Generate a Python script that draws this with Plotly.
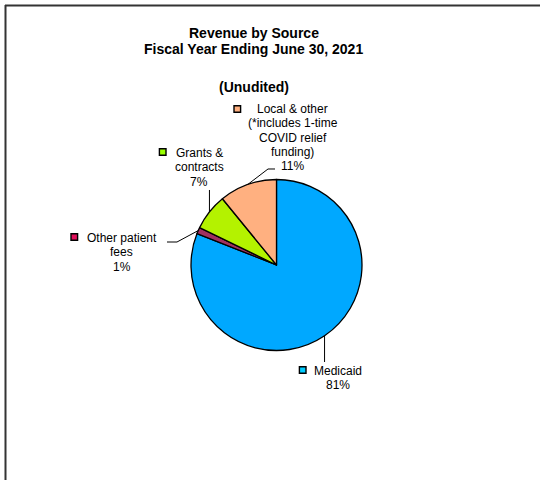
import math
import plotly.graph_objects as go

# ---- data ----
categories = ["Medicaid", "Other patient fees", "Grants & contracts", "Local & other"]
values = [81.0, 1.2, 6.9, 10.9]
label_lines = [
    ["Medicaid", "81%"],
    ["Other patient", "fees", "1%"],
    ["Grants &", "contracts", "7%"],
    ["Local & other", "(*includes 1-time", "COVID relief", "funding)", "11%"],
]
title_lines = ["Revenue by Source", "Fiscal Year Ending June 30, 2021", "(Unudited)"]
slice_colors = ["#00A8FF", "#A0305F", "#B4F200", "#FFB080"]
key_colors = ["#00CCFF", "#E0105A", "#99FF00", "#FFB080"]

W, H = 540, 480
cx, cy, R = 276.5, 265.0, 85.5


def px(x):
    return x / W


def py(y):
    return 1 - y / H


fig = go.Figure()
fig.add_trace(go.Pie(
    labels=categories,
    values=values,
    sort=False,
    direction="clockwise",
    rotation=0,
    marker=dict(colors=slice_colors, line=dict(color="black", width=1.3)),
    textinfo="none",
    hoverinfo="label+percent",
    showlegend=False,
    domain=dict(x=[px(cx - R), px(cx + R)], y=[py(cy + R), py(cy - R)]),
))

# slice mid-angle edge points (clockwise from 12 o'clock)
total = sum(values)
edges = []
cum = 0.0
for v in values:
    mid = (cum + v / 2) / total * 2 * math.pi
    edges.append((cx + R * math.sin(mid), cy - R * math.cos(mid)))
    cum += v

# label layout (pixel positions): center x, first line y, key position
label_pos = [(337.5, 371), (121.5, 238), (199, 153), (292.5, 109)]
key_pos = [(302.7, 370), (74.3, 237), (162.7, 152), (237.3, 109)]
line_gap = 14.3

shapes = []
annotations = []
for i, lines in enumerate(label_lines):
    lx, ly = label_pos[i]
    for j, t in enumerate(lines):
        annotations.append(dict(
            x=px(lx), y=py(ly + j * line_gap), xref="paper", yref="paper", text=t,
            showarrow=False, xanchor="center", yanchor="middle", align="center",
            font=dict(family="Liberation Sans, Arial", size=12, color="black"),
        ))
    kx, ky = key_pos[i]
    shapes.append(dict(type="rect", xref="paper", yref="paper",
                       x0=px(kx - 3.3), x1=px(kx + 3.3), y0=py(ky + 3.3), y1=py(ky - 3.3),
                       fillcolor=key_colors[i], line=dict(color="black", width=1.4)))

ex, ey = edges[0]
leader_pts = [
    [(ex, ey), (ex, 362)],
    [edges[1], (177, 242), (167, 242)],
    [edges[2], (edges[2][0], 190)],
    [edges[3], (268, 169), (275, 169)],
]
for pts in leader_pts:
    path = "M " + " L ".join(f"{px(x):.5f},{py(y):.5f}" for x, y in pts)
    shapes.append(dict(type="path", xref="paper", yref="paper", path=path,
                       line=dict(color="black", width=1)))

# frame lines (top and left)
shapes.append(dict(type="line", xref="paper", yref="paper", x0=px(5), x1=1, y0=py(5.5), y1=py(5.5),
                   line=dict(color="#333333", width=2)))
shapes.append(dict(type="line", xref="paper", yref="paper", x0=px(5.5), x1=px(5.5), y0=py(5), y1=0,
                   line=dict(color="#333333", width=2)))

title_y = [32.5, 49, 87]
for t, y in zip(title_lines, title_y):
    annotations.append(dict(
        x=px(253.5), y=py(y), xref="paper", yref="paper", text=f"<b>{t}</b>",
        showarrow=False, xanchor="center", yanchor="middle",
        font=dict(family="Liberation Sans, Arial", size=14, color="black"),
    ))

fig.update_layout(
    width=W, height=H,
    margin=dict(l=0, r=0, t=0, b=0),
    paper_bgcolor="white", plot_bgcolor="white",
    shapes=shapes, annotations=annotations,
)
fig.write_html("out.html", config={"displayModeBar": False},
               post_script="document.body.style.margin='0px';")
